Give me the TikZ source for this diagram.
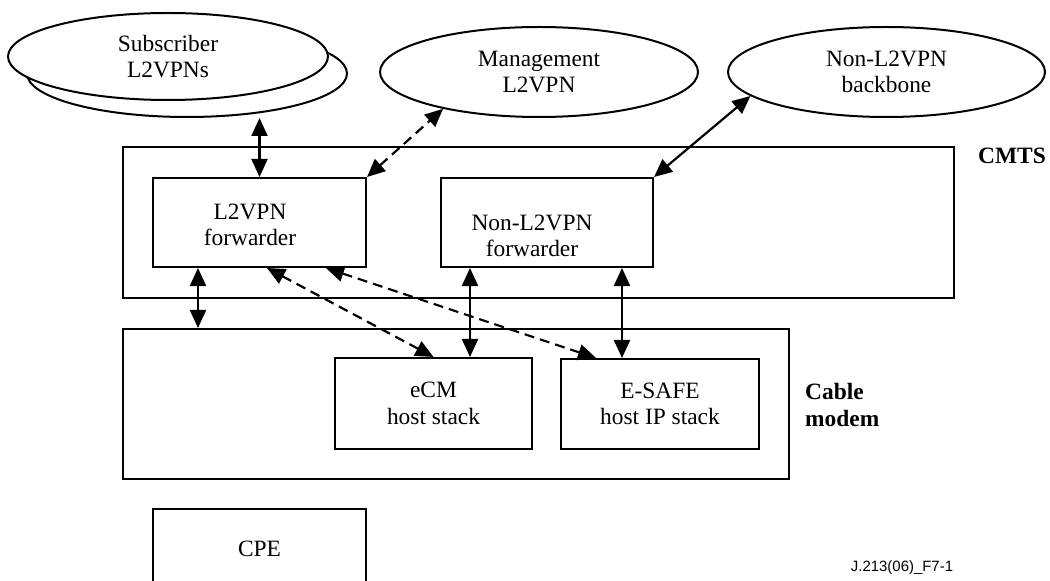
\documentclass[tikz,border=0pt]{standalone}
\usepackage{fontspec}
\setmainfont{Liberation Serif}
\newfontfamily\figlabelfont{Liberation Sans}
\usetikzlibrary{shapes.geometric,arrows.meta}

\tikzset{
  txt/.style={font=\fontsize{23.5}{26.5}\selectfont, align=center},
  cloud/.style={ellipse, draw, fill=white, line width=2bp, inner sep=0pt, txt},
  unit/.style={rectangle, draw, fill=white, line width=2bp, inner sep=0pt, txt},
  tag/.style={font=\fontsize{23.5}{26.5}\selectfont\bfseries, align=left, inner sep=0pt},
  tip/.tip={Triangle[length=18bp,width=16bp]},
  link/.style={line width=2.2bp, tip-tip},
  dlink/.style={link, dash pattern=on 10bp off 6bp},
}

\begin{document}
\begin{tikzpicture}[x=1bp, y=-1bp]
\useasboundingbox (0,0) rectangle (1050,581);
\clip (0,0) rectangle (1050,581);

% networks above the CMTS
\node[cloud, minimum width=320bp, minimum height=87bp] (subB) at (187,73.5) {};
\node[cloud, minimum width=320bp, minimum height=87bp] (subF) at (168,56.5) {Subscriber\\L2VPNs};
\node[cloud, minimum width=318bp, minimum height=90bp] (mg) at (539,72) {Management\\L2VPN};
\node[cloud, minimum width=317bp, minimum height=90bp] (bb) at (886.5,72) {Non-L2VPN\\backbone};

% CMTS
\node[unit, minimum width=831bp, minimum height=151bp] (cmts) at (538.5,222.5) {};
\node[tag, anchor=west] (cmtslabel) at (978,156) {CMTS};
\node[unit, minimum width=213bp, minimum height=89bp] (lf) at (259.5,222.5) {};
\node[txt, inner sep=0pt] (lftext) at (250,225) {L2VPN\\forwarder};
\node[unit, minimum width=212bp, minimum height=89bp] (nlf) at (547,222.5) {};
\node[txt, inner sep=0pt] (nlftext) at (532,236) {Non-L2VPN\\forwarder};

% cable modem
\node[unit, minimum width=666bp, minimum height=150bp] (cm) at (456,404) {};
\node[tag, anchor=west] (cmlabel) at (805,405) {Cable\\modem};
\node[unit, minimum width=197bp, minimum height=91bp] (ecm) at (433.5,403.5) {eCM\\host stack};
\node[unit, minimum width=198bp, minimum height=90bp] (es) at (660,404) {E-SAFE\\host IP stack};

% customer premises equipment
\node[unit, minimum width=213bp, minimum height=80bp] (cpe) at (259.5,549) {CPE};

\node[font=\figlabelfont\fontsize{15}{17}\selectfont, inner sep=0pt] (fig) at (902,568) {J.213(06)\_F7-1};

% connections
\draw[link] (lf.north) -- (lf.north |- subB.south);
\draw[dlink] (lf.north east) -- (mg.201);
\draw[link] (nlf.north east) -- (bb.190);
\draw[link] ([xshift=46bp]lf.south west) -- ([xshift=46bp]lf.south west |- cm.north);
\draw[dlink] ([xshift=115bp]lf.south west) -- (ecm.north);
\draw[dlink] ([xshift=174bp]lf.south west) -- ([xshift=36bp]es.north west);
\draw[link] ([xshift=30bp]nlf.south west) -- ([xshift=30bp]nlf.south west |- ecm.north);
\draw[link] ([xshift=182bp]nlf.south west) -- ([xshift=182bp]nlf.south west |- es.north);
\end{tikzpicture}
\end{document}
